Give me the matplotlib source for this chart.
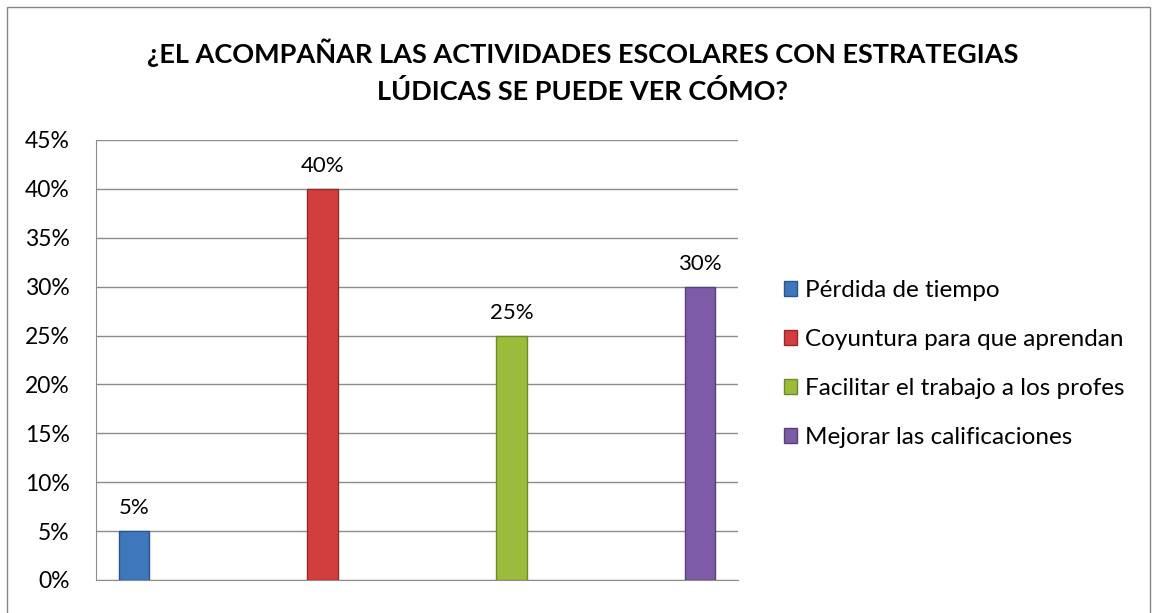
import matplotlib.pyplot as plt
from matplotlib.patches import Rectangle

categories = ['Pérdida de tiempo', 'Coyuntura para que aprendan',
              'Facilitar el trabajo a los profes', 'Mejorar las calificaciones']
values = [5, 40, 25, 30]
colors = ['#3F77BC', '#D23E3E', '#9BBB3B', '#7D5BA6']
edges = ['#2A558C', '#962A2A', '#6E8A28', '#584078']
yticks = list(range(0, 50, 5))

plt.rcParams['font.family'] = ['Lato', 'DejaVu Sans']

fig = plt.figure(figsize=(11.58, 6.13), dpi=100)
fig.patches.append(Rectangle((7 / 1158, -0.1), 1143 / 1158, 1.1 - 7 / 613,
                             transform=fig.transFigure, fill=False,
                             edgecolor='#868686', lw=1))
ax = fig.add_axes([96 / 1158, 1 - 580 / 613, 642 / 1158, 440 / 613])

for i, (cat, v) in enumerate(zip(categories, values)):
    ax.bar(i, v, width=0.16, color=colors[i], edgecolor=edges[i], lw=1,
           label=cat, zorder=3)
    ax.text(i, v + 1.3, f'{v}%', ha='center', va='bottom', fontsize=16)

ax.set_xlim(-0.2, 3.2)
ax.set_ylim(0, 45)
ax.set_yticks(yticks)
ax.set_yticklabels([f'{t}%' for t in yticks], fontsize=16.5)
ax.set_xticks([])
ax.yaxis.grid(True, color='#8C8C8C', lw=1, zorder=0)
ax.tick_params(axis='y', length=0, pad=19)
for s in ['top', 'right']:
    ax.spines[s].set_visible(False)
ax.spines['left'].set_color('#8C8C8C')
ax.spines['bottom'].set_color('#8C8C8C')

fig.text(0.503, 0.884, '¿EL ACOMPAÑAR LAS ACTIVIDADES ESCOLARES CON ESTRATEGIAS\nLÚDICAS SE PUEDE VER CÓMO?',
         ha='center', va='center', fontsize=19.5, fontweight='bold', linespacing=1.55)

fig.legend(loc='center left', bbox_to_anchor=(762 / 1158, 1 - 364 / 613),
           frameon=False, fontsize=17.5, handlelength=0.55, handleheight=0.55,
           handletextpad=0.3, labelspacing=1.15)

fig.savefig('out.png', dpi=100)
